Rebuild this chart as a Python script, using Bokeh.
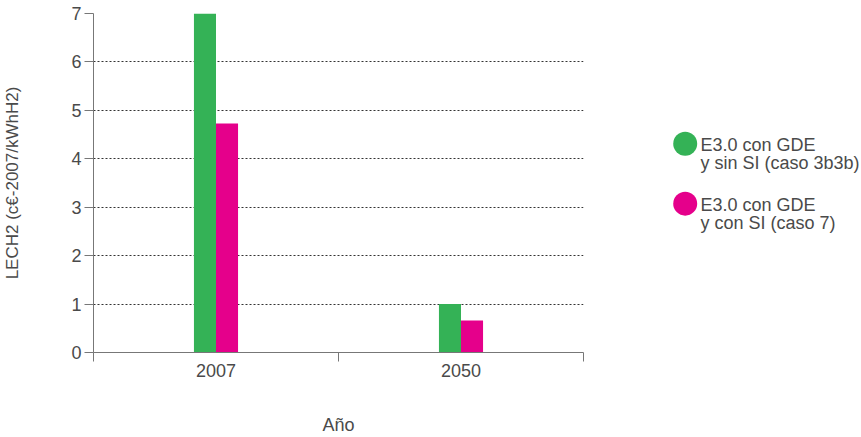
from bokeh.plotting import figure
from bokeh.layouts import row
from bokeh.models import FixedTicker, Range1d
from bokeh.embed import file_html
from bokeh.resources import INLINE
from bokeh.core.properties import value

years = ["2007", "2050"]
series_names = ["E3.0 con GDE\ny sin SI (caso 3b3b)", "E3.0 con GDE\ny con SI (caso 7)"]
sin_si = [7.0, 1.0]
con_si = [4.73, 0.66]
colors = ["#34b256", "#e5008b"]
y_ticks = [0, 1, 2, 3, 4, 5, 6, 7]

FONT = "Liberation Sans"
TXT = "#4a4a4a"
H = 437
TOP, BOTTOM = 13, 84

centers = [i + 0.5 for i in range(len(years))]
bw = 0.09

p = figure(width=593, height=H, x_range=Range1d(0, len(years)), y_range=Range1d(0, 7),
           output_backend="svg", toolbar_location=None,
           min_border_left=93, min_border_right=10, min_border_top=TOP, min_border_bottom=BOTTOM)
p.outline_line_color = None

p.vbar(x=[c - bw / 2 for c in centers], top=sin_si, width=bw, bottom=0,
       fill_color=colors[0], line_color=None)
p.vbar(x=[c + bw / 2 for c in centers], top=con_si, width=bw, bottom=0,
       fill_color=colors[1], line_color=None)

# x axis
xt = FixedTicker(ticks=centers, minor_ticks=list(range(len(years) + 1)))
p.xaxis.ticker = xt
p.xaxis.major_label_overrides = {c: y for c, y in zip(centers, years)}
p.xaxis.major_tick_line_color = None
p.xaxis.major_tick_out = 0
p.xaxis.major_tick_in = 0
p.xaxis.minor_tick_out = 9
p.xaxis.minor_tick_in = 0
p.xaxis.minor_tick_line_color = "#777777"
p.xaxis.axis_line_color = "#777777"
p.xaxis.axis_label = "Año"
p.xaxis.axis_label_standoff = 35
p.xaxis.major_label_standoff = 2

# y axis
p.yaxis.ticker = FixedTicker(ticks=y_ticks)
p.yaxis.minor_tick_line_color = None
p.yaxis.major_tick_out = 9
p.yaxis.major_tick_in = 0
p.yaxis.major_tick_line_color = "#777777"
p.yaxis.axis_line_color = "#777777"
p.yaxis.axis_label = "LECH2 (c€-2007/kWhH2)"
p.yaxis.axis_label_standoff = 46
p.yaxis.major_label_standoff = 3

for ax in [p.xaxis, p.yaxis]:
    ax.major_label_text_font = FONT
    ax.major_label_text_font_size = "18px"
    ax.major_label_text_color = TXT
    ax.axis_label_text_font = FONT
    ax.axis_label_text_font_size = "18px"
    ax.axis_label_text_font_style = "normal"
    ax.axis_label_text_color = TXT
p.yaxis.axis_label_text_font_size = "17px"

p.xgrid.grid_line_color = None
p.ygrid.grid_line_color = "#333333"
p.ygrid.grid_line_dash = "2 2"
p.ygrid.grid_line_width = 1

# legend as a separate panel (data units = screen pixels)
LW = 268
lg = figure(width=LW, height=H, x_range=Range1d(0, LW), y_range=Range1d(H - BOTTOM, TOP),
            output_backend="svg", toolbar_location=None,
            x_axis_location=None, y_axis_location=None,
            min_border_left=0, min_border_right=0, min_border_top=TOP, min_border_bottom=BOTTOM)
lg.outline_line_color = None
lg.grid.visible = False
ys = [143.7, 203.7]
lg.scatter(x=[91.7, 91.7], y=ys, size=24, fill_color=colors, line_color=None)
lines1 = [s.split("\n")[0] for s in series_names]
lines2 = [s.split("\n")[1] for s in series_names]
lg.text(x=[107, 107], y=[y + 1.5 for y in ys], text=lines1, text_font=value(FONT),
        text_font_size="18px", text_color=TXT, text_baseline="alphabetic")
lg.text(x=[107, 107], y=[y + 19 for y in ys], text=lines2, text_font=value(FONT),
        text_font_size="18px", text_color=TXT, text_baseline="alphabetic")

layout = row(p, lg)
open("out.html", "w").write(file_html(layout, INLINE))
